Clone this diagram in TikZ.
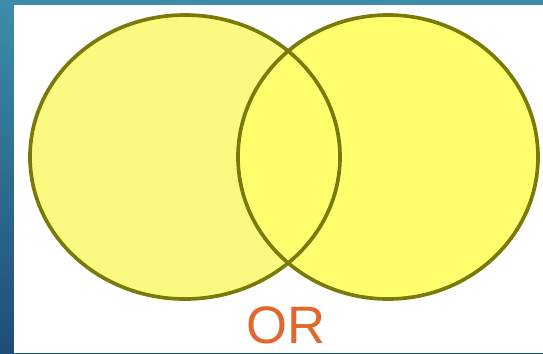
\documentclass[tikz,border=0pt]{standalone}
\usepackage{fontspec}
\setsansfont{Liberation Sans}
\definecolor{vang}{HTML}{FAFA80}
\definecolor{vangb}{HTML}{FFFF6E}
\definecolor{vien}{HTML}{7A7A08}
\definecolor{cam}{HTML}{E2672F}
\definecolor{xanha}{HTML}{3D8DAA}
\definecolor{xanhb}{HTML}{1F4D7A}
\begin{document}
\begin{tikzpicture}[x={(0.02cm,0)},y={(0,-0.02cm)},line join=round,line cap=round]
	% Khung nền
	\useasboundingbox (0,0) rectangle (543,353);
	\shade[top color=xanha,bottom color=xanhb] (0,0) rectangle (543,353);
	\fill[white] (14,5) rectangle (543,353);
	% Hai hình tròn
	\def\rxa{155}
	\def\rxb{150}
	\def\ry{142}
	\coordinate (A) at (185,157);
	\coordinate (B) at (388,157);
	\fill[vang] (A) ellipse ({\rxa*0.02cm} and {\ry*0.02cm});
	\fill[vangb] (B) ellipse ({\rxb*0.02cm} and {\ry*0.02cm});
	\draw[vien,line width=2.1pt] (A) ellipse ({\rxa*0.02cm} and {\ry*0.02cm});
	\draw[vien,line width=2.1pt] (B) ellipse ({\rxb*0.02cm} and {\ry*0.02cm});
	\node[text=cam,inner sep=0pt,text depth=0pt,anchor=base,font=\sffamily\fontsize{30}{30}\selectfont] (or) at (286,343) {OR};
\end{tikzpicture}
\end{document}
